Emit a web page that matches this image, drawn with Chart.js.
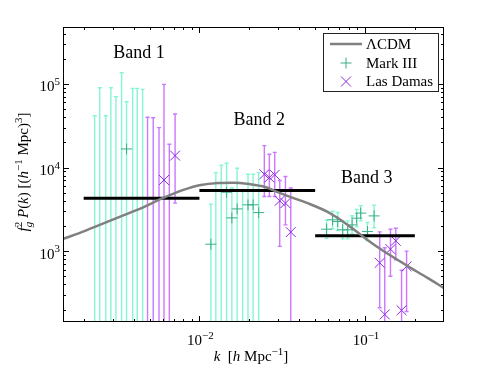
<!DOCTYPE html>
<html>
<head>
<meta charset="utf-8">
<script src="https://cdn.jsdelivr.net/npm/chart.js@4.4.0/dist/chart.umd.min.js"></script>
<style>
  html, body { margin: 0; padding: 0; background: #fff; }
  #wrap { width: 491px; height: 368px; }
</style>
</head>
<body>
<div id="wrap"><canvas id="c"></canvas></div>
<script>
// axis ranges and tick labels
const xRange = [0.0015, 0.3];
const yRange = [142, 480000];
const xMajor = [0.01, 0.1];
const xMajorExp = ['\u22122', '\u22121'];
const yMajor = [1e3, 1e4, 1e5];
const yMajorExp = ['3', '4', '5'];

// LCDM model curve
const lcdmK = [0.0015, 0.002, 0.0025, 0.0035, 0.0045, 0.006, 0.008, 0.01, 0.013, 0.016, 0.02, 0.025,
  0.03, 0.036, 0.045, 0.059, 0.071, 0.086, 0.103, 0.13, 0.18, 0.24, 0.3];
const lcdmP = [1400, 1720, 2060, 2700, 3300, 4300, 5400, 6150, 6550, 6600, 6350, 5850,
  5050, 4400, 3750, 2970, 2370, 1800, 1370, 995, 667, 475, 361];

// Mark III (null = central value off the plot)
const mk3K = [0.00233, 0.0025, 0.00272, 0.00292, 0.00313, 0.00339, 0.00363, 0.00395, 0.00421, 0.00454,
  0.01173, 0.01256, 0.01354, 0.01459, 0.0157, 0.0169, 0.01823, 0.01965, 0.0211, 0.0228,
  0.0586, 0.0637, 0.0684, 0.0733, 0.0786, 0.0836, 0.0891, 0.0942, 0.1035, 0.1135];
const mk3P = [null, null, null, null, null, null, 16700, null, null, null,
  1210, null, null, 5070, 2500, 3200, null, 3580, 3580, 2890,
  1830, 2370, 2260, 1800, 1800, 2060, 2480, 2850, 1715, 2640];
const mk3Hi = [41700, 90000, 41700, 90000, 70300, 136000, 61300, 88600, 88600, 86200,
  3650, 8700, 10700, 11250, 5700, 9800, 5150, 8300, 8300, 8700,
  2350, 3000, 2900, 2300, 2300, 2650, 3150, 3500, 2200, 3550];
const mk3Lo = [1, 1, 1, 1, 1, 1, 1, 1, 1, 1,
  1, 1, 1, 1, 1, 1, 1, 1, 1, 1,
  1420, 1850, 1760, 1400, 1400, 1600, 1950, 2300, 1340, 1900];

// Las Damas
const ldK = [0.00486, 0.00526, 0.0057, 0.00611, 0.00658, 0.00713,
  0.02466, 0.02644, 0.0285, 0.03055, 0.03307, 0.03562,
  0.1227, 0.1316, 0.1425, 0.1535, 0.1663, 0.1783];
const ldP = [null, null, null, 7100, null, 13900,
  8300, 7600, 8200, 4000, 3750, 1690,
  725, 175, 1056, 1330, 196, 658];
const ldHi = [39900, 39400, 30000, 98700, 19000, 43700,
  18300, 14400, 15200, 7000, 7800, 5700,
  1700, 1100, 1830, 1880, 590, 1000];
const ldLo = [1, 1, 1, 1, 1, 3750,
  4500, 4500, 4500, 1140, 2060, 1,
  210, 1, 500, 790, 1, 190];

// band averages
const bandNames = ['Band 1', 'Band 2', 'Band 3'];
const bandLo = [0.002, 0.01, 0.05];
const bandHi = [0.01, 0.05, 0.2];
const bandP = [4300, 5300, 1530];

const SERIF = '"Liberation Serif", "Times New Roman", serif';
const mk3Color = '#3aaf85', mk3Err = '#86f5d5';
const ldColor = '#8a2be2', ldErr = '#cc77ff';
const bandLabelAt = [[0.00431, 234000], [0.023, 37000], [0.1024, 7450]];

const pts = (ks, ps) => ks.map((k, i) => ({ x: k, y: ps[i] })).filter(p => p.y !== null);

function fontStr(size, it) { return (it ? 'italic ' : '') + size + 'px ' + SERIF; }

// rich text: segments with italic / sup / sub / stacked
function drawRich(ctx, segs, M, cx, cy, align) {
  let x = 0, prevStart = 0, prevW = 0;
  const out = [];
  segs.forEach(s => {
    const size = s.sh ? Math.round(M * 0.7) : M;
    const f = fontStr(size, s.it);
    ctx.font = f;
    const w = ctx.measureText(s.t).width;
    let sx = x;
    if (s.stack) { sx = prevStart; x = prevStart + Math.max(prevW, w); }
    else { prevStart = x; prevW = w; x += w; }
    out.push({ t: s.t, f, x: sx, dy: s.sh === 'sup' ? -0.42 * M : s.sh === 'sub' ? 0.28 * M : 0 });
  });
  const x0 = align === 'center' ? cx - x / 2 : align === 'right' ? cx - x : cx;
  ctx.textAlign = 'left';
  ctx.textBaseline = 'alphabetic';
  out.forEach(s => { ctx.font = s.f; ctx.fillText(s.t, x0 + s.x, cy + s.dy); });
}

function logTicks(min, max) {
  const out = [];
  for (let e = Math.floor(Math.log10(min)); e <= Math.ceil(Math.log10(max)); e++) {
    for (let m = 1; m <= 9; m++) {
      const v = m * Math.pow(10, e);
      if (v >= min && v <= max) out.push({ v, major: m === 1 });
    }
  }
  return out;
}

function errBars(chart, ks, his, los, color) {
  const { ctx, chartArea: a, scales: { x, y } } = chart;
  ctx.save();
  ctx.beginPath(); ctx.rect(a.left, a.top, a.width, a.height); ctx.clip();
  ctx.strokeStyle = color; ctx.lineWidth = 1.4;
  ks.forEach((k, i) => {
    const px = x.getPixelForValue(k), top = y.getPixelForValue(his[i]), bot = y.getPixelForValue(los[i]);
    ctx.beginPath();
    ctx.moveTo(px, top); ctx.lineTo(px, bot);
    ctx.moveTo(px - 2, top); ctx.lineTo(px + 2, top);
    ctx.moveTo(px - 2, bot); ctx.lineTo(px + 2, bot);
    ctx.stroke();
  });
  ctx.restore();
}

const decor = {
  id: 'decor',
  beforeDatasetsDraw(chart) {
    errBars(chart, mk3K, mk3Hi, mk3Lo, mk3Err);
    errBars(chart, ldK, ldHi, ldLo, ldErr);
  },
  afterDatasetsDraw(chart) {
    const { ctx, chartArea: a, scales: { x, y } } = chart;
    ctx.save();
    // frame + inward ticks on all sides
    ctx.strokeStyle = '#000'; ctx.lineWidth = 1;
    ctx.strokeRect(a.left + 0.5, a.top + 0.5, a.width - 1, a.height - 1);
    ctx.beginPath();
    logTicks(xRange[0], xRange[1]).forEach(t => {
      const px = Math.round(x.getPixelForValue(t.v)) + 0.5, len = t.major ? 6 : 3;
      ctx.moveTo(px, a.bottom); ctx.lineTo(px, a.bottom - len);
      ctx.moveTo(px, a.top); ctx.lineTo(px, a.top + len);
    });
    logTicks(yRange[0], yRange[1]).forEach(t => {
      const py = Math.round(y.getPixelForValue(t.v)) + 0.5, len = t.major ? 6 : 3;
      ctx.moveTo(a.left, py); ctx.lineTo(a.left + len, py);
      ctx.moveTo(a.right, py); ctx.lineTo(a.right - len, py);
    });
    ctx.stroke();

    ctx.fillStyle = '#000';
    xMajor.forEach((v, i) => {
      drawRich(ctx, [{ t: '10' }, { t: xMajorExp[i], sh: 'sup' }], 15, x.getPixelForValue(v) + 1, a.bottom + 23, 'center');
    });
    yMajor.forEach((v, i) => {
      drawRich(ctx, [{ t: '10' }, { t: yMajorExp[i], sh: 'sup' }], 15, a.left - 3, y.getPixelForValue(v) + 7.5, 'right');
    });

    // axis titles
    drawRich(ctx, [{ t: 'k', it: 1 }, { t: '  [' }, { t: 'h', it: 1 }, { t: ' Mpc' }, { t: '\u22121', sh: 'sup' }, { t: ']' }],
      15, 251, 361, 'center');
    ctx.save();
    ctx.translate(28, 172);
    ctx.rotate(-Math.PI / 2);
    drawRich(ctx, [{ t: 'f', it: 1 }, { t: 'g', it: 1, sh: 'sub' }, { t: '2', sh: 'sup', stack: 1 }, { t: ' ' },
      { t: 'P', it: 1 }, { t: '(' }, { t: 'k', it: 1 }, { t: ') [(' }, { t: 'h', it: 1 }, { t: '\u22121', sh: 'sup' },
      { t: ' Mpc)' }, { t: '3', sh: 'sup' }, { t: ']' }], 15, 0, 0, 'center');
    ctx.restore();

    // band labels
    ctx.font = fontStr(18, false);
    ctx.textAlign = 'center'; ctx.textBaseline = 'middle';
    bandNames.forEach((n, i) => {
      ctx.fillText(n, x.getPixelForValue(bandLabelAt[i][0]), y.getPixelForValue(bandLabelAt[i][1]));
    });

    // legend box
    const bw = 115, bh = 58, bx = a.right - 6 - bw, by = a.top + 6;
    ctx.fillStyle = '#fff';
    ctx.fillRect(bx, by, bw, bh);
    ctx.strokeStyle = '#222'; ctx.lineWidth = 1;
    ctx.strokeRect(bx + 0.5, by + 0.5, bw, bh);
    const rows = [by + 11, by + 30, by + 48.5], mx = bx + 23;
    ctx.strokeStyle = '#808080'; ctx.lineWidth = 2.5;
    ctx.beginPath(); ctx.moveTo(bx + 7, rows[0]); ctx.lineTo(bx + 39, rows[0]); ctx.stroke();
    ctx.strokeStyle = mk3Color; ctx.lineWidth = 1;
    ctx.beginPath();
    ctx.moveTo(mx - 5.5, rows[1]); ctx.lineTo(mx + 5.5, rows[1]);
    ctx.moveTo(mx, rows[1] - 5.5); ctx.lineTo(mx, rows[1] + 5.5);
    ctx.stroke();
    ctx.strokeStyle = ldColor;
    ctx.beginPath();
    ctx.moveTo(mx - 5, rows[2] - 5); ctx.lineTo(mx + 5, rows[2] + 5);
    ctx.moveTo(mx - 5, rows[2] + 5); ctx.lineTo(mx + 5, rows[2] - 5);
    ctx.stroke();
    ctx.fillStyle = '#000';
    ctx.font = fontStr(15, false);
    ctx.textAlign = 'left'; ctx.textBaseline = 'middle';
    ['\u039bCDM', 'Mark III', 'Las Damas'].forEach((t, i) => ctx.fillText(t, bx + 43, rows[i] + 1));
    ctx.restore();
  }
};

const bandSets = bandNames.map((n, i) => ({
  type: 'line', label: n,
  data: [{ x: bandLo[i], y: bandP[i] }, { x: bandHi[i], y: bandP[i] }],
  borderColor: '#000', borderWidth: 3, pointRadius: 0
}));

new Chart(document.getElementById('c'), {
  type: 'scatter',
  data: {
    datasets: [
      { type: 'line', label: '\u039bCDM', data: pts(lcdmK, lcdmP), borderColor: '#808080', borderWidth: 2.5,
        pointRadius: 0, cubicInterpolationMode: 'monotone' },
      ...bandSets,
      { label: 'Mark III', data: pts(mk3K, mk3P), pointStyle: 'cross', pointRadius: 5.5,
        borderColor: mk3Color, backgroundColor: mk3Color, borderWidth: 1 },
      { label: 'Las Damas', data: pts(ldK, ldP), pointStyle: 'crossRot', pointRadius: 7,
        borderColor: ldColor, backgroundColor: ldColor, borderWidth: 1 }
    ]
  },
  options: {
    responsive: true, maintainAspectRatio: false, animation: false,
    layout: { padding: { left: 63, right: 47, top: 27, bottom: 46 } },
    plugins: { legend: { display: false }, tooltip: { enabled: false } },
    scales: {
      x: { type: 'logarithmic', min: xRange[0], max: xRange[1], display: false },
      y: { type: 'logarithmic', min: yRange[0], max: yRange[1], display: false }
    }
  },
  plugins: [decor]
});
</script>
</body>
</html>
